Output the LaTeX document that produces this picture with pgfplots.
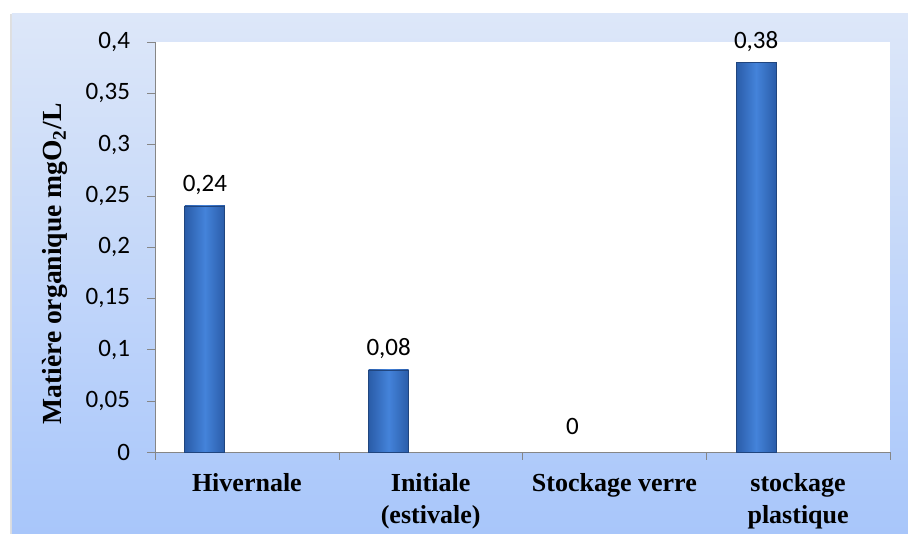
\documentclass[border=0pt]{standalone}
\usepackage{pgfplots}
\pgfplotsset{compat=1.18}
\usepackage{fontspec}
\setmainfont{Carlito}
\newfontfamily\tnr{Liberation Serif}

\definecolor{bgtop}{HTML}{DDE7F9}
\definecolor{bgbot}{HTML}{A8C6FA}
\definecolor{bardark}{HTML}{2A5CA8}
\definecolor{barlight}{HTML}{4483DA}
\definecolor{axisgray}{HTML}{868686}

\pgfplotsset{
  onebar/.style={ybar,bar width=20pt,bar shift=-21pt,
    draw=bardark!75!black,line width=0.4pt,
    left color=bardark,right color=bardark,middle color=barlight},
}

\begin{document}
\begin{tikzpicture}
% page bounds and chart area
\path (-77.5pt,-41pt) rectangle (376.5pt,226pt);
\fill[gray!25] (-72.5pt,-41pt) rectangle (-71.5pt,219pt);
\shade[top color=bgtop, bottom color=bgbot] (-71.5pt,-41pt) rectangle (376.5pt,219pt);
\begin{axis}[
at={(0,0)},
anchor=south west,
scale only axis,
width=367.5pt,
height=205pt,
font=\fontsize{12.5}{15}\selectfont,
axis background/.style={fill=white},
axis x line*=bottom,
axis y line*=left,
axis line style={draw=axisgray,-},
xmin=-0.5,
xmax=3.5,
ymin=0,
ymax=0.4,
ytick={0,0.05,...,0.4},
xtick={0,1,2,3},
xticklabels={Hivernale,{Initiale\\(estivale)},Stockage verre,{stockage\\plastique}},
xticklabel style={font=\tnr\bfseries\fontsize{13}{16}\selectfont,align=center,anchor=north,yshift=-3pt},
major x tick style={draw=none},
minor xtick={-0.5,0.5,1.5,2.5,3.5},
minor tick length=4pt,
major tick length=4pt,
tick align=outside,
tick style={draw=axisgray},
y tick label style={xshift=-5pt,/pgf/number format/.cd,use comma,fixed,assume math mode=true},
ylabel={\tnr\bfseries\fontsize{13.8}{16}\selectfont Matière organique mgO\textsubscript{2}/L},
every axis y label/.style={at={(rel axis cs:0,0.5)},xshift=-50pt,yshift=-8.5pt,rotate=90,anchor=center},
nodes near coords={\pgfmathprintnumber[fixed,use comma,assume math mode=true]{\pgfplotspointmeta}},
every node near coord/.append style={font=\fontsize{12.5}{15}\selectfont,black,anchor=south,xshift=-21pt,yshift=2pt},
clip=false,
]
\addplot[onebar] coordinates {(0,0.24)};
\addplot[onebar] coordinates {(1,0.08)};
\addplot[onebar,draw=none,every node near coord/.append style={yshift=3pt}] coordinates {(2,0)};
\addplot[onebar] coordinates {(3,0.38)};
\end{axis}
\end{tikzpicture}
\end{document}
